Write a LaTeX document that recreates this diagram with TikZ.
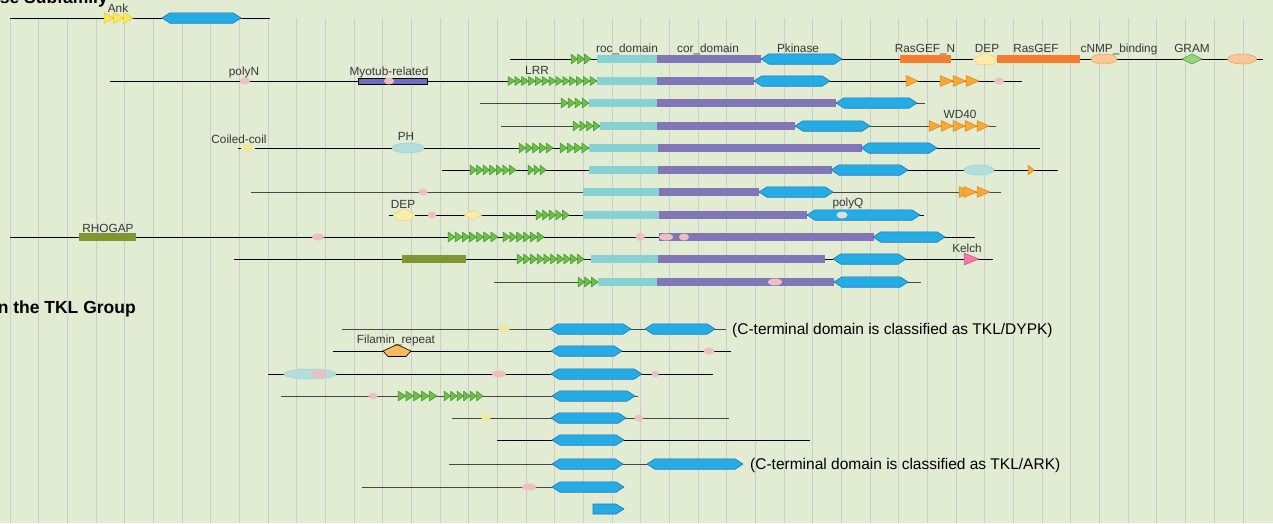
\documentclass[tikz,border=0pt]{standalone}
\usepackage{fontspec}
\setmainfont{Liberation Sans}
\definecolor{bgc}{RGB}{225,236,211}
\definecolor{gridc}{RGB}{204,204,206}
\definecolor{kinfill}{RGB}{38,172,228}
\definecolor{kinline}{RGB}{28,118,190}
\definecolor{rocc}{RGB}{134,210,210}
\definecolor{corc}{RGB}{129,118,184}
\definecolor{lrrfill}{RGB}{112,190,72}
\definecolor{lrrline}{RGB}{58,150,48}
\definecolor{orfill}{RGB}{248,168,52}
\definecolor{orline}{RGB}{222,132,32}
\definecolor{rasc}{RGB}{245,125,45}
\definecolor{cnmpfill}{RGB}{250,200,150}
\definecolor{cnmpline}{RGB}{226,160,100}
\definecolor{gramfill}{RGB}{150,212,128}
\definecolor{gramline}{RGB}{70,162,60}
\definecolor{depfill}{RGB}{252,236,170}
\definecolor{depline}{RGB}{245,205,110}
\definecolor{ankfill}{RGB}{252,232,80}
\definecolor{ankline}{RGB}{238,198,40}
\definecolor{yellc}{RGB}{240,232,150}
\definecolor{pinkc}{RGB}{240,190,192}
\definecolor{cyanfill}{RGB}{180,222,222}
\definecolor{cyanline}{RGB}{150,210,210}
\definecolor{olivec}{RGB}{128,150,50}
\definecolor{myoc}{RGB}{108,110,190}
\definecolor{kelfill}{RGB}{240,120,172}
\definecolor{kelline}{RGB}{218,80,140}
\definecolor{polyqc}{RGB}{222,222,228}
\definecolor{filfill}{RGB}{250,185,90}
\definecolor{labc}{RGB}{55,55,55}
\tikzset{
  bbline/.style={draw=black, line width=0.9pt},
  grayline/.style={draw=black!72, line width=0.9pt},
  kin/.style={fill=kinfill, draw=kinline, line width=0.6pt, line join=round},
  lrr/.style={fill=lrrfill, draw=lrrline, line width=0.5pt, line join=round},
  oratri/.style={fill=orfill, draw=orline, line width=0.5pt, line join=round},
  anktri/.style={fill=ankfill, draw=ankline, line width=0.5pt, line join=round},
  kelch/.style={fill=kelfill, draw=kelline, line width=0.5pt, line join=round},
  dep/.style={fill=depfill, draw=depline, line width=0.5pt, line join=round},
  gram/.style={fill=gramfill, draw=gramline, line width=0.6pt, line join=round},
  filam/.style={fill=filfill, draw=black, line width=0.6pt, line join=round},
  cnmp/.style={fill=cnmpfill, draw=cnmpline, line width=0.5pt},
  cyane/.style={fill=cyanfill, draw=cyanline, line width=0.5pt},
  pinke/.style={fill=pinkc, draw=none},
  yelle/.style={fill=yellc, draw=none},
  polyq/.style={fill=polyqc, draw=none},
  lab/.style={anchor=base, inner sep=0pt, text=labc, font=\fontsize{11.8}{14}\selectfont},
  note/.style={anchor=base west, inner sep=0pt, text=black, font=\fontsize{15.5}{18}\selectfont},
  head/.style={anchor=base east, inner sep=0pt, text=black, font=\bfseries\fontsize{17.5}{20}\selectfont}
}
% backbone line: [style]{x1}{x2}{y}
\newcommand\pline[4][bbline]{\draw[#1] (#2,#4) -- (#3,#4);}
% kinase hexagon: {x1}{x2}{y}
\newcommand\khex[3]{\draw[kin] (#1,#3) -- ({#1+8},{#3-5.2}) -- ({#2-8},{#3-5.2}) -- (#2,#3) -- ({#2-8},{#3+5.2}) -- ({#1+8},{#3+5.2}) -- cycle;}
% flat box: {x1}{x2}{y}{colour}
\newcommand\dbox[4]{\fill[#4] (#1,{#3-3.6}) rectangle (#2,{#3+3.6});}
% row of triangles: {x0}{x1}{n}{y}{half height}{style}
\newcommand\trirow[6]{%
  \pgfmathsetmacro\trw{(#2-#1)/#3}%
  \foreach \k in {1,...,#3}{\draw[#6] ({#1+(\k-1)*\trw},{#4-#5}) -- ({#1+\k*\trw},#4) -- ({#1+(\k-1)*\trw},{#4+#5}) -- cycle;}}
% ellipse: {x}{y}{rx}{ry}{style}
\newcommand\dell[5]{\draw[#5] (#1,#2) ellipse [x radius=#3pt, y radius=#4pt];}
% pentagon: {x1}{x2}{y}{style}
\newcommand\dpent[4]{\draw[#4] (#1,#3) -- ({(#1+#2)/2},{#3-6.5}) -- (#2,#3) -- ({#2-5},{#3+5.5}) -- ({#1+5},{#3+5.5}) -- cycle;}
% diamond: {x1}{x2}{y}{style}
\newcommand\ddiam[4]{\draw[#4] (#1,#3) -- ({(#1+#2)/2},{#3-5}) -- (#2,#3) -- ({(#1+#2)/2},{#3+5}) -- cycle;}
\begin{document}
\begin{tikzpicture}[x=1pt,y=-1pt]
\useasboundingbox (0,0) rectangle (1273,523);
\fill[bgc] (0,0) rectangle (1273,523);
\foreach \i in {0,...,43}{\draw[gridc, line width=1pt] ({10+\i*28.674},18) -- ({10+\i*28.674},523);}
% headings
\node[head] (h1) at (108,3) {se Subfamily};
\node[head] (h2) at (136,313) {n the TKL Group};
% ---- row 1
\pline{10}{270}{18}
\trirow{104}{133}{3}{18}{5.5}{anktri}
\khex{162}{241}{18}
\node[lab] (lank) at (118,12) {Ank};
% ---- row 2
\pline{510}{1263}{59}
\trirow{571}{591}{3}{59}{5}{lrr}
\dbox{597}{657}{59}{rocc}
\dbox{657}{761}{59}{corc}
\khex{761}{842}{59}
\dbox{900}{951}{59}{rasc}
\dpent{973}{998}{59}{dep}
\dbox{997}{1080}{59}{rasc}
\dell{1104}{59}{13}{5}{cnmp}
\ddiam{1182}{1202}{59}{gram}
\dell{1242}{59}{14.5}{5}{cnmp}
\node[lab] (lroc) at (627,52) {roc\_domain};
\node[lab] (lcor) at (708,52) {cor\_domain};
\node[lab] (lpk) at (798,52) {Pkinase};
\node[lab] (lrgn) at (925,52) {RasGEF\_N};
\node[lab] (ldep1) at (987,52) {DEP};
\node[lab] (lrg) at (1036,52) {RasGEF};
\node[lab] (lcnmp) at (1119,52) {cNMP\_binding};
\node[lab] (lgram) at (1192,52) {GRAM};
% ---- row 3
\pline{110}{1022}{81}
\dell{245}{81}{5}{3.5}{pinke}
\draw[fill=myoc, draw=black, line width=0.8pt] (358,78) rectangle (427,84);
\dell{389}{81}{5}{3.5}{pinke}
\trirow{508}{597}{13}{81}{4.5}{lrr}
\dbox{597}{657}{81}{rocc}
\dbox{657}{754}{81}{corc}
\khex{754}{830}{81}
\trirow{906}{918}{1}{81}{5.5}{oratri}
\trirow{940}{979}{3}{81}{5.5}{oratri}
\dell{999}{81}{5}{3.5}{pinke}
\node[lab] (lpolyn) at (244,75) {polyN};
\node[lab] (lmyo) at (389,75) {Myotub-related};
\node[lab] (llrr) at (537,74) {LRR};
% ---- row 4
\pline[grayline]{480}{925}{103}
\trirow{561}{589}{4}{103}{5}{lrr}
\dbox{589}{657}{103}{rocc}
\dbox{657}{836}{103}{corc}
\khex{836}{917}{103}
% ---- row 5
\pline[grayline]{501}{996}{126}
\trirow{573}{600}{4}{126}{5}{lrr}
\dbox{600}{657}{126}{rocc}
\dbox{657}{795}{126}{corc}
\khex{795}{870}{126}
\trirow{929}{989}{5}{126}{5.5}{oratri}
\node[lab] (lwd) at (960,118) {WD40};
% ---- row 6
\pline{238}{1040}{148}
\dell{248}{148}{7}{3.5}{yelle}
\dell{408}{148}{16}{5}{cyane}
\trirow{519}{553}{5}{148}{5}{lrr}
\trirow{560}{589}{4}{148}{5}{lrr}
\dbox{589}{658}{148}{rocc}
\dbox{658}{862}{148}{corc}
\khex{861}{937}{148}
\node[lab] (lcc) at (239,143) {Coiled-coil};
\node[lab] (lph) at (406,140) {PH};
% ---- row 7
\pline{442}{1058}{170}
\trirow{470}{516}{7}{170}{5}{lrr}
\trirow{528}{546}{3}{170}{5}{lrr}
\dbox{589}{658}{170}{rocc}
\dbox{658}{832}{170}{corc}
\khex{831}{908}{170}
\dell{979}{170}{15}{5}{cyane}
\trirow{1028}{1034}{1}{170}{5}{oratri}
% ---- row 8
\pline[grayline]{251}{1001}{192}
\dell{423}{192}{4.5}{3.5}{pinke}
\dbox{583}{659}{192}{rocc}
\dbox{659}{759}{192}{corc}
\khex{759}{833}{192}
\trirow{959}{971}{1}{192}{5.5}{oratri}
\trirow{964}{990}{2}{192}{5.5}{oratri}
% ---- row 9
\pline{389}{924}{215}
\dpent{393}{415}{215}{dep}
\dell{432}{215}{4.5}{3.5}{pinke}
\ddiam{464}{482}{215}{dep}
\trirow{536}{569}{5}{215}{5}{lrr}
\dbox{583}{659}{215}{rocc}
\dbox{659}{807}{215}{corc}
\khex{807}{920}{215}
\dell{842}{215}{5.5}{3.5}{polyq}
\node[lab] (ldep2) at (403,208) {DEP};
\node[lab] (lpq) at (848,206) {polyQ};
% ---- row 10
\pline{10}{975}{237}
\dbox{79}{136}{237}{olivec}
\dell{318}{237}{6}{3.5}{pinke}
\trirow{448}{498}{7}{237}{5}{lrr}
\trirow{503}{544}{6}{237}{5}{lrr}
\dell{640}{237}{4.5}{4}{pinke}
\dbox{659}{874}{237}{corc}
\dell{666}{237}{7}{3.5}{pinke}
\dell{684}{237}{5}{3.5}{pinke}
\khex{873}{945}{237}
\node[lab] (lrho) at (108,232) {RHOGAP};
% ---- row 11
\pline{234}{993}{259}
\dbox{402}{466}{259}{olivec}
\trirow{517}{584}{10}{259}{5}{lrr}
\dbox{591}{658}{259}{rocc}
\dbox{658}{825}{259}{corc}
\khex{833}{906}{259}
\trirow{964}{979}{1}{259}{6}{kelch}
\node[lab] (lkel) at (967,252) {Kelch};
% ---- row 12
\pline[grayline]{494}{921}{282}
\trirow{578}{598}{3}{282}{5}{lrr}
\dbox{598}{657}{282}{rocc}
\dbox{657}{834}{282}{corc}
\dell{775}{282}{7}{3.5}{pinke}
\khex{834}{908}{282}
% ---- lower rows
\pline[grayline]{342}{726}{329}
\dell{504}{329}{5.5}{3.5}{yelle}
\khex{550}{631}{329}
\khex{645}{715}{329}
\node[note] (n1) at (732,334) {(C-terminal domain is classified as TKL/DYPK)};
\pline{333}{731}{351}
\dpent{383}{411}{351}{filam}
\khex{551}{622}{351}
\dell{709}{351}{5.5}{3.5}{pinke}
\node[lab] (lfil) at (396,343) {Filamin\_repeat};
\pline{268}{713}{374}
\dell{310}{374}{26}{5}{cyane}
\dell{319}{374}{7.5}{3.5}{pinke}
\dell{499}{374}{7}{3.5}{pinke}
\khex{551}{642}{374}
\dell{655}{374}{3.5}{3.5}{pinke}
\pline[grayline]{281}{638}{396}
\dell{373}{396}{4.5}{3.5}{pinke}
\trirow{398}{437}{5}{396}{5}{lrr}
\trirow{444}{483}{6}{396}{5}{lrr}
\khex{552}{635}{396}
\pline[grayline]{452}{729}{418}
\dell{486}{418}{4.5}{3.5}{yelle}
\khex{551}{626}{418}
\dell{639}{418}{4.5}{3.5}{pinke}
\pline{497}{810}{440}
\khex{552}{624}{440}
\pline[grayline]{449}{743}{464}
\khex{552}{623}{464}
\khex{647}{743}{464}
\node[note] (n2) at (750,469) {(C-terminal domain is classified as TKL/ARK)};
\pline[grayline]{362}{552}{487}
\dell{529}{487}{7}{3.5}{pinke}
\khex{552}{624}{487}
\draw[kin] (593,504) -- (616,504) -- (624,509) -- (616,514) -- (593,514) -- cycle;
\end{tikzpicture}
\end{document}
